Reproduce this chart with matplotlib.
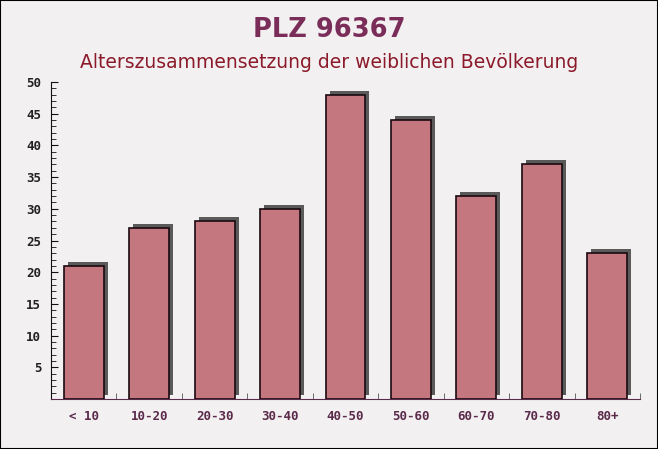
import matplotlib
matplotlib.use("Agg")
import matplotlib.pyplot as plt
import matplotlib.transforms as mtransforms
from matplotlib.ticker import MultipleLocator
from matplotlib.font_manager import FontProperties

categories = ["< 10", "10-20", "20-30", "30-40", "40-50", "50-60", "60-70", "70-80", "80+"]
values = [21, 27, 28, 30, 48, 44, 32, 37, 23]
y_ticks = [5, 10, 15, 20, 25, 30, 35, 40, 45, 50]

fig = plt.figure(figsize=(6.58, 4.49), dpi=100)
fig.patch.set_facecolor("#f3f0f1")
ax = fig.add_axes([51/658, 50/449, (640-51)/658, (399-82)/449])
ax.set_facecolor("none")

x = list(range(len(categories)))
shadow = mtransforms.offset_copy(ax.transData, fig=fig, x=4, y=4, units="dots")
ax.bar(x, values, width=0.61, color="#5a5a5a", transform=shadow, zorder=2)
ax.bar(x, values, width=0.61, color="#c4777e", edgecolor="#1a0a10", linewidth=1.2, zorder=3)

ax.set_xlim(-0.5, len(categories) - 0.5)
ax.set_ylim(0, 50)
ax.set_yticks(y_ticks)
ax.yaxis.set_minor_locator(MultipleLocator(1))
ax.set_xticks(x)
ax.set_xticklabels(categories)
ax.xaxis.set_minor_locator(MultipleLocator(0.5))

for s in ["top", "right"]:
    ax.spines[s].set_visible(False)
ax.spines["left"].set_color("#111111")
ax.spines["bottom"].set_color("#5a2a4a")

tick_font = dict(family="DejaVu Sans Mono", weight="bold", size=9)
ax.tick_params(axis="y", which="major", direction="in", length=5, color="#111111", pad=7)
ax.tick_params(axis="y", which="minor", direction="in", length=3.5, color="#111111")
ax.tick_params(axis="x", which="major", length=0, pad=8)
ax.tick_params(axis="x", which="minor", direction="in", length=4, color="#555555")
for lab in ax.get_yticklabels():
    lab.set_fontproperties(FontProperties(**tick_font))
    lab.set_color("#222222")
for lab in ax.get_xticklabels():
    lab.set_fontproperties(FontProperties(**tick_font))
    lab.set_color("#5a2a4a")

fig.text(0.5, 1 - 30/449, "PLZ 96367", ha="center", va="center",
         fontsize=18.5, fontweight="bold", color="#7b2d5a")
fig.text(0.5, 1 - 62/449, "Alterszusammensetzung der weiblichen Bevölkerung",
         ha="center", va="center", fontsize=13.5, color="#8b1a2a")

border = plt.Rectangle((0, 0), 1, 1, transform=fig.transFigure, fill=False,
                       edgecolor="#000000", linewidth=1.5)
fig.patches.append(border)

fig.savefig("out.png", dpi=100, facecolor=fig.get_facecolor())
